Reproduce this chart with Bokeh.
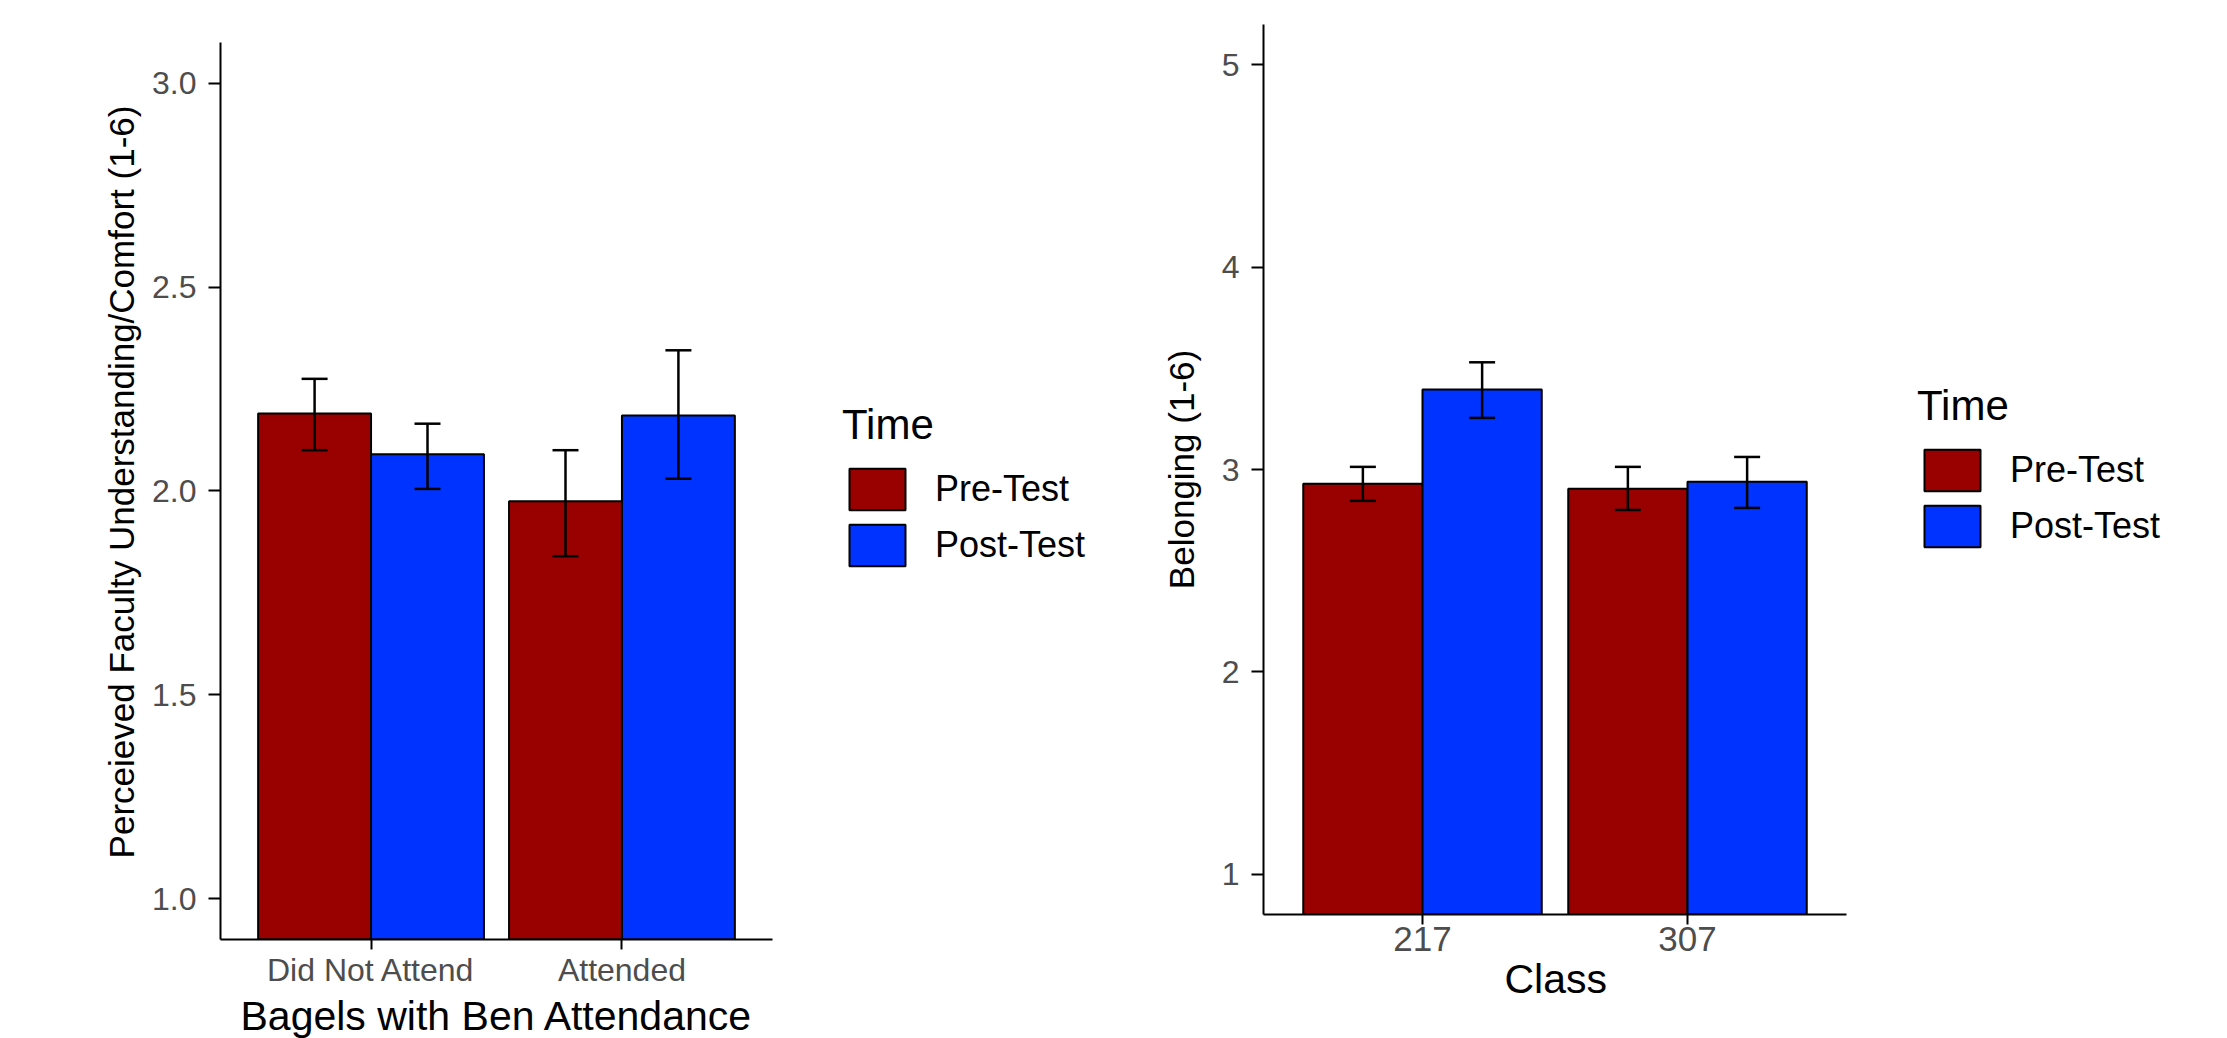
from bokeh.plotting import figure
from bokeh.models import (Range1d, FixedTicker, NumeralTickFormatter, Title,
                          ColumnDataSource, Whisker, TeeHead, Legend, LegendItem)
from bokeh.transform import dodge
from bokeh.layouts import row
from bokeh.embed import file_html
from bokeh.resources import INLINE

# ---------------- data ----------------
series_labels = ["Pre-Test", "Post-Test"]
series_colors = ["#990000", "#0033FF"]

attend_cats = ["Did Not Attend", "Attended"]
attend_pre = [2.19, 1.975]
attend_pre_lo = [2.10, 1.84]
attend_pre_hi = [2.275, 2.10]
attend_post = [2.09, 2.185]
attend_post_lo = [2.005, 2.03]
attend_post_hi = [2.165, 2.345]
attend_yticks = [1.0, 1.5, 2.0, 2.5, 3.0]

class_cats = ["217", "307"]
class_pre = [2.93, 2.905]
class_pre_lo = [2.845, 2.80]
class_pre_hi = [3.013, 3.013]
class_post = [3.395, 2.94]
class_post_lo = [3.255, 2.81]
class_post_hi = [3.53, 3.062]
class_yticks = [1, 2, 3, 4, 5]

FONT = "Liberation Sans"


def panel(cats, means, los, his, yticks, ylo, yhi, fmt, ylabel, xlabel,
          width, height, mbl, mbt, mbb, axis_px, axis_px_top, xtick_font,
          xtitle_font, xtitle_offset, ylabel_standoff, legend_xy):
    n = len(cats)
    xlo, xhi = 0.4, n + 0.6                      # ggplot-style discrete expansion
    frame_w = width - mbl - 5
    frame_h = height - mbt - mbb
    x_end = xlo + (xhi - xlo) * frame_w / axis_px
    y_end = yhi + (yhi - ylo) * axis_px_top / (frame_h - axis_px_top)
    p = figure(width=width, height=height, output_backend="svg", toolbar_location=None,
               x_range=Range1d(xlo, x_end), y_range=Range1d(ylo, y_end),
               min_border_left=mbl, min_border_right=5,
               min_border_top=mbt, min_border_bottom=mbb)
    p.outline_line_color = None
    p.xgrid.grid_line_color = None
    p.ygrid.grid_line_color = None
    p.background_fill_color = "white"
    p.border_fill_color = "white"

    xpos = list(range(1, n + 1))
    renderers = []
    offsets = [-0.225, 0.225]
    for i in range(2):
        src = ColumnDataSource(dict(x=xpos, top=means[i], lo=los[i], hi=his[i]))
        r = p.vbar(x=dodge("x", offsets[i]), top="top", bottom=0,
                   width=0.45, fill_color=series_colors[i], line_color="black",
                   line_width=2, source=src)
        renderers.append(r)
        w = Whisker(base=dodge("x", offsets[i]), upper="hi", lower="lo",
                    source=src, line_color="black", line_width=2.5, level="annotation",
                    upper_head=TeeHead(size=26, line_width=2.5, line_color="black"),
                    lower_head=TeeHead(size=26, line_width=2.5, line_color="black"))
        p.add_layout(w)

    for ax in (p.xaxis[0], p.yaxis[0]):
        ax.axis_line_color = "black"
        ax.axis_line_width = 2
        ax.major_tick_line_color = "black"
        ax.major_tick_line_width = 2
        ax.major_tick_in = 0
        ax.minor_tick_line_color = None
        ax.major_label_text_color = "#4D4D4D"
        ax.major_label_text_font = FONT
        ax.axis_label_text_font = FONT
        ax.axis_label_text_color = "black"
        ax.axis_label_text_font_style = "normal"

    p.yaxis.bounds = (ylo, yhi)
    p.yaxis.major_tick_out = 12
    p.yaxis.ticker = FixedTicker(ticks=yticks)
    p.yaxis.formatter = NumeralTickFormatter(format=fmt)
    p.yaxis.major_label_text_font_size = "32px"
    p.yaxis.major_label_standoff = 12
    p.yaxis.axis_label = ylabel
    p.yaxis.axis_label_text_font_size = "35px"
    p.yaxis.axis_label_standoff = ylabel_standoff

    p.xaxis.bounds = (xlo, xhi)
    p.xaxis.ticker = FixedTicker(ticks=xpos)
    p.xaxis.major_label_overrides = {x: c for x, c in zip(xpos, cats)}
    p.xaxis.major_tick_out = 10
    p.xaxis.major_label_text_font_size = xtick_font
    p.xaxis.major_label_standoff = 2

    # x-axis title, centred under the axis line (not under the whole frame)
    p.add_layout(Title(text=xlabel, align="left", offset=xtitle_offset, standoff=0,
                       text_font_size=xtitle_font, text_font=FONT,
                       text_font_style="normal", text_color="black"), "below")

    legend = Legend(items=[LegendItem(label=series_labels[i], renderers=[renderers[i]])
                           for i in range(2)],
                    title="Time", location=legend_xy, orientation="vertical",
                    glyph_width=70, glyph_height=52, spacing=4, label_standoff=23,
                    padding=0, margin=0, border_line_color=None,
                    background_fill_alpha=0,
                    title_text_font_size="42px", title_text_font_style="normal",
                    title_text_font=FONT, title_text_color="black", title_standoff=14,
                    label_text_font_size="36px", label_text_font=FONT,
                    label_text_color="black")
    p.add_layout(legend)
    return p


p1 = panel(attend_cats, [attend_pre, attend_post], [attend_pre_lo, attend_post_lo],
           [attend_pre_hi, attend_post_hi], attend_yticks, 0.9, 3.1, "0.0",
           "Perceieved Faculty Understanding/Comfort (1-6)", "Bagels with Ben Attendance",
           1120, 1038, 220, 24, 96, 552, 18, "32px", "41px", 20, 8, (622, 368))

p2 = panel(class_cats, [class_pre, class_post], [class_pre_lo, class_post_lo],
           [class_pre_hi, class_post_hi], class_yticks, 0.8, 5.2, "0",
           "Belonging (1-6)", "Class",
           1100, 1013, 143, 24, 96, 583, 0, "35px", "41px", 241, 18, (654, 362))

layout = row(p1, p2)
open("out.html", "w").write(file_html(layout, INLINE))
